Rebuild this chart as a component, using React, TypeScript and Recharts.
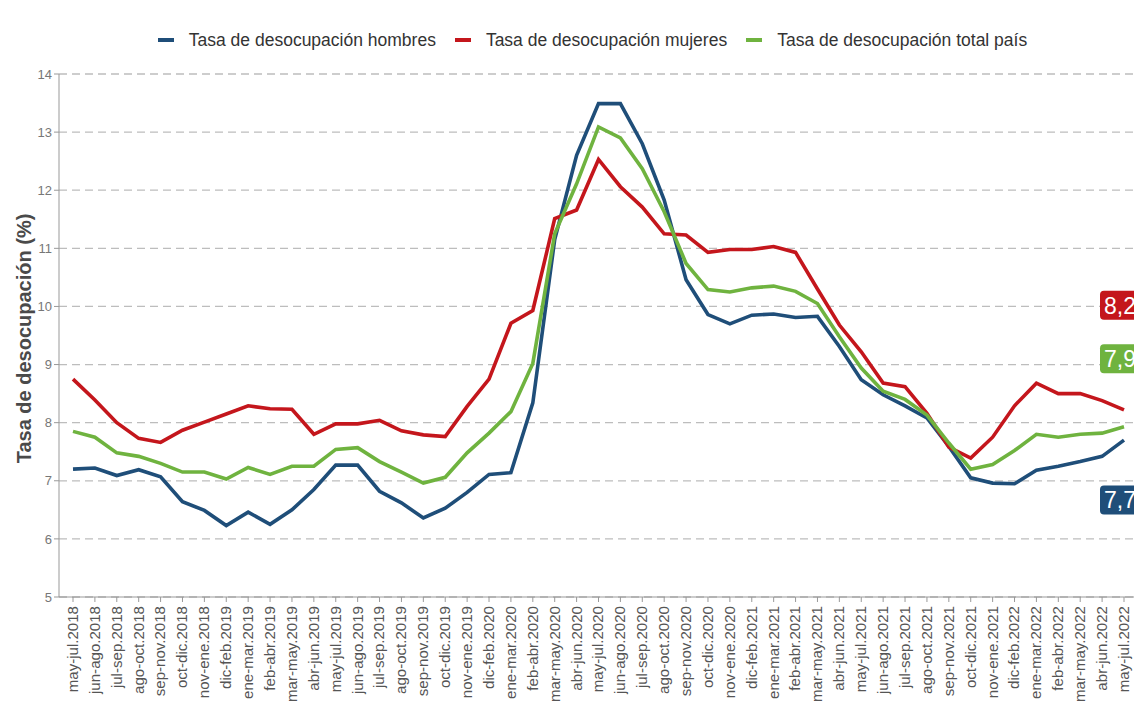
import React from 'react';
import { LineChart, Line, XAxis, YAxis, CartesianGrid, Legend, ReferenceDot } from 'recharts';

const periods = [
  'may-jul.2018', 'jun-ago.2018', 'jul-sep.2018', 'ago-oct.2018', 'sep-nov.2018', 'oct-dic.2018',
  'nov-ene.2018', 'dic-feb.2019', 'ene-mar.2019', 'feb-abr.2019', 'mar-may.2019', 'abr-jun.2019',
  'may-jul.2019', 'jun-ago.2019', 'jul-sep.2019', 'ago-oct.2019', 'sep-nov.2019', 'oct-dic.2019',
  'nov-ene.2019', 'dic-feb.2020', 'ene-mar.2020', 'feb-abr.2020', 'mar-may.2020', 'abr-jun.2020',
  'may-jul.2020', 'jun-ago.2020', 'jul-sep.2020', 'ago-oct.2020', 'sep-nov.2020', 'oct-dic.2020',
  'nov-ene.2020', 'dic-feb.2021', 'ene-mar.2021', 'feb-abr.2021', 'mar-may.2021', 'abr-jun.2021',
  'may-jul.2021', 'jun-ago.2021', 'jul-sep.2021', 'ago-oct.2021', 'sep-nov.2021', 'oct-dic.2021',
  'nov-ene.2021', 'dic-feb.2022', 'ene-mar.2022', 'feb-abr.2022', 'mar-may.2022', 'abr-jun.2022',
  'may-jul.2022',
];

const hombres = [
  7.20, 7.22, 7.09, 7.19, 7.07, 6.64, 6.49, 6.23, 6.46, 6.25, 6.50, 6.85,
  7.27, 7.27, 6.82, 6.62, 6.36, 6.53, 6.80, 7.11, 7.14, 8.34, 11.15, 12.60,
  13.49, 13.49, 12.80, 11.83, 10.46, 9.86, 9.70, 9.85, 9.87, 9.81, 9.83, 9.31,
  8.74, 8.48, 8.29, 8.08, 7.59, 7.05, 6.96, 6.95, 7.18, 7.25, 7.33, 7.42,
  7.70,
];

const mujeres = [
  8.75, 8.39, 8.00, 7.73, 7.66, 7.87, 8.01, 8.15, 8.29, 8.24, 8.23, 7.80,
  7.98, 7.98, 8.04, 7.86, 7.79, 7.76, 8.28, 8.75, 9.71, 9.93, 11.51, 11.66,
  12.53, 12.06, 11.71, 11.25, 11.23, 10.93, 10.98, 10.98, 11.03, 10.93, 10.30, 9.68,
  9.22, 8.68, 8.62, 8.16, 7.58, 7.39, 7.75, 8.29, 8.68, 8.50, 8.50, 8.38,
  8.22,
];

const total = [
  7.85, 7.75, 7.48, 7.42, 7.30, 7.15, 7.15, 7.03, 7.23, 7.11, 7.25, 7.25,
  7.54, 7.57, 7.33, 7.15, 6.96, 7.06, 7.48, 7.82, 8.19, 9.02, 11.25, 12.11,
  13.09, 12.90, 12.37, 11.63, 10.74, 10.29, 10.25, 10.32, 10.35, 10.26, 10.05, 9.48,
  8.94, 8.54, 8.40, 8.13, 7.65, 7.20, 7.28, 7.52, 7.80, 7.75, 7.80, 7.82,
  7.93,
];

const yTicks = [5, 6, 7, 8, 9, 10, 11, 12, 13, 14];

const series = [
  { key: 'hombres', name: 'Tasa de desocupación hombres', color: '#1F4E79', values: hombres, labelAt: 6.67 },
  { key: 'mujeres', name: 'Tasa de desocupación mujeres', color: '#C4161C', values: mujeres, labelAt: 10.02 },
  { key: 'total', name: 'Tasa de desocupación total país', color: '#6FB33F', values: total, labelAt: 9.1 },
];

const data = periods.map((p, i) => ({
  period: p,
  hombres: hombres[i],
  mujeres: mujeres[i],
  total: total[i],
}));

const FONT = '"Liberation Sans", Arial, sans-serif';

const XTick = (props: any) => {
  const { x, y, payload } = props;
  const ty = y + 2;
  return (
    <text
      transform={`translate(${x}, ${ty}) rotate(-90) scale(1.04, 1)`}
      x={0}
      y={0}
      textAnchor="end"
      dominantBaseline="central"
      fontSize={14.5}
      fill="#555"
      fontFamily={FONT}
    >
      {payload.value}
    </text>
  );
};

const renderLegend = () => (
  <div
    style={{
      display: 'flex',
      justifyContent: 'center',
      alignItems: 'center',
      height: 20,
      fontFamily: FONT,
      fontSize: 17.5,
      color: '#333',
    }}
  >
    {series.map((s, i) => (
      <div
        key={s.key}
        style={{ display: 'flex', alignItems: 'center', marginRight: i < series.length - 1 ? 19 : 0 }}
      >
        <span style={{ display: 'inline-block', width: 16, height: 4, background: s.color, marginRight: 15 }} />
        <span>{s.name}</span>
      </div>
    ))}
  </div>
);

const YTitle = (props: any) => {
  const vb = props.viewBox || {};
  const cx = 16;
  const cy = vb.y + vb.height / 2 + 3;
  return (
    <text
      x={cx}
      y={cy}
      transform={`rotate(-90, ${cx}, ${cy})`}
      textAnchor="middle"
      dominantBaseline="central"
      fontSize={20}
      fontWeight="bold"
      fill="#4a4a4a"
      fontFamily={FONT}
    >
      Tasa de desocupación (%)
    </text>
  );
};

const makeEndLabel = (color: string, text: string) => (p: any) => {
  const { cx, cy } = p;
  return (
    <g>
      <rect x={cx - 24} y={cy - 14.5} width={60} height={29} rx={4} ry={4} fill={color} />
      <text x={cx - 20} y={cy + 8.5} fontSize={23} fill="#fff" fontFamily={FONT}>
        {text}
      </text>
    </g>
  );
};

const fmt = (v: number) => v.toFixed(1).replace('.', ',');

export default function App() {
  return (
    <div style={{ width: 1134, height: 700, fontFamily: FONT }}>
      <LineChart
        width={1134}
        height={700}
        data={data}
        margin={{ top: 46, right: 4, bottom: 0, left: 0 }}
      >
        <CartesianGrid vertical={false} stroke="#bdbdbd" strokeDasharray="8 5" strokeWidth={1.3} />
        <XAxis
          dataKey="period"
          interval={0}
          height={111}
          padding={{ left: 14, right: 14 }}
          tick={<XTick />}
          tickSize={5}
          axisLine={{ stroke: '#999' }}
          tickLine={{ stroke: '#999' }}
        />
        <YAxis
          domain={[5, 14]}
          ticks={yTicks}
          width={51}
          tickSize={5}
          tickMargin={2}
          tick={{ fontSize: 13, fill: '#777', fontFamily: FONT }}
          axisLine={{ stroke: '#999' }}
          tickLine={{ stroke: '#999' }}
          label={<YTitle />}
        />
        <Legend
          verticalAlign="top"
          content={renderLegend}
          wrapperStyle={{ top: 22, left: 51, width: 1067 }}
        />
        {series.map((s) => (
          <Line
            key={s.key}
            type="linear"
            dataKey={s.key}
            name={s.name}
            stroke={s.color}
            strokeWidth={3.6}
            dot={false}
            isAnimationActive={false}
          />
        ))}
        {series.map((s) => (
          <ReferenceDot
            key={`lbl-${s.key}`}
            x={periods[periods.length - 1]}
            y={s.labelAt}
            r={0}
            ifOverflow="visible"
            shape={makeEndLabel(s.color, fmt(s.values[s.values.length - 1]))}
          />
        ))}
      </LineChart>
    </div>
  );
}
